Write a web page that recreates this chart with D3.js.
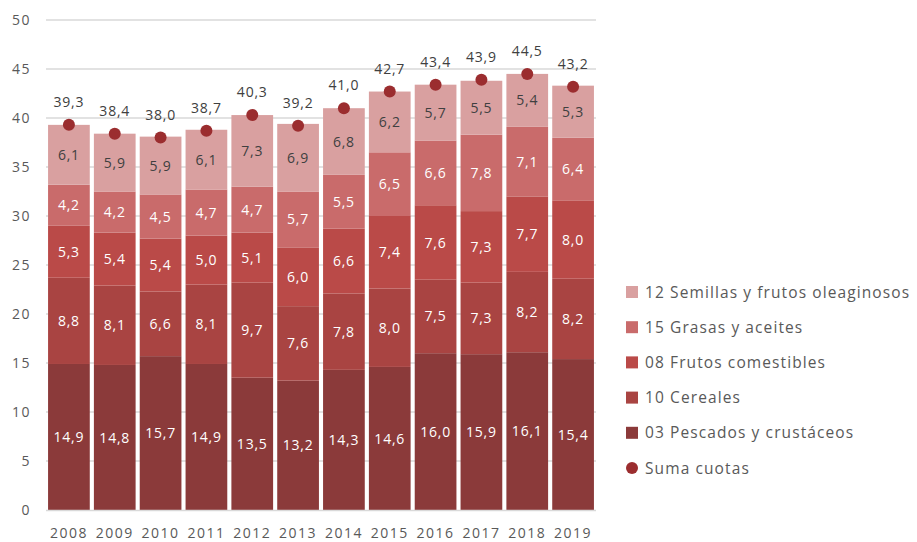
<!DOCTYPE html>
<html><head><meta charset="utf-8">
<script src="https://cdn.jsdelivr.net/npm/d3@7"></script>
<style>body{margin:0;background:#fff}svg{display:block;font-family:"Open Sans",sans-serif}</style>
</head><body><svg id="c" width="917" height="542"></svg>
<script>
const years = ["2008","2009","2010","2011","2012","2013","2014","2015","2016","2017","2018","2019"];
const pescados = [14.9,14.8,15.7,14.9,13.5,13.2,14.3,14.6,16.0,15.9,16.1,15.4];
const cereales = [8.8,8.1,6.6,8.1,9.7,7.6,7.8,8.0,7.5,7.3,8.2,8.2];
const frutos = [5.3,5.4,5.4,5.0,5.1,6.0,6.6,7.4,7.6,7.3,7.7,8.0];
const grasas = [4.2,4.2,4.5,4.7,4.7,5.7,5.5,6.5,6.6,7.8,7.1,6.4];
const semillas = [6.1,5.9,5.9,6.1,7.3,6.9,6.8,6.2,5.7,5.5,5.4,5.3];
const totals = [39.3,38.4,38.0,38.7,40.3,39.2,41.0,42.7,43.4,43.9,44.5,43.2];
const yTicks = [0,5,10,15,20,25,30,35,40,45,50];

const series = [
  {name:"03 Pescados y crustáceos", values:pescados, color:"#8b3a3a", text:"#fff"},
  {name:"10 Cereales", values:cereales, color:"#a94442", text:"#fff"},
  {name:"08 Frutos comestibles", values:frutos, color:"#ba4a48", text:"#fff"},
  {name:"15 Grasas y aceites", values:grasas, color:"#c96b6b", text:"#fff"},
  {name:"12 Semillas y frutos oleaginosos", values:semillas, color:"#d9a0a0", text:"#404040"}
];
const fmt = v => v.toFixed(1).replace(".", ",");

const svg = d3.select("#c");
const x = d3.scaleBand().domain(years).range([46,596]).paddingInner(0.09).paddingOuter(0.045);
const y = d3.scaleLinear().domain([0,50]).range([510,20]);

svg.append("g").selectAll("line").data(yTicks.filter(t=>t>0)).join("line")
  .attr("x1",46).attr("x2",596).attr("y1",d=>y(d)).attr("y2",d=>y(d))
  .attr("stroke","#d9d9d9").attr("stroke-width",1.5);

svg.append("g").selectAll("text").data(yTicks).join("text")
  .attr("x",31).attr("y",d=>y(d)).attr("dy","0.36em").attr("text-anchor","end")
  .attr("font-size",14).attr("letter-spacing",1.5).attr("fill","#595959").text(d=>d);

const rows = years.map((yr,i)=>{const o={year:yr}; series.forEach(s=>o[s.name]=s.values[i]); return o;});
const stack = d3.stack().keys(series.map(s=>s.name))(rows);
stack.forEach((layer,si)=>{
  const s = series[si];
  const g = svg.append("g");
  g.selectAll("rect").data(layer).join("rect")
    .attr("x",d=>x(d.data.year)).attr("width",x.bandwidth())
    .attr("y",d=>y(d[1])).attr("height",d=>y(d[0])-y(d[1]))
    .attr("fill",s.color);
  g.selectAll("text").data(layer).join("text")
    .attr("x",d=>x(d.data.year)+x.bandwidth()/2).attr("y",d=>y((d[0]+d[1])/2))
    .attr("dy","0.36em").attr("text-anchor","middle").attr("font-size",14).attr("letter-spacing",0.8)
    .attr("fill",s.text).text(d=>fmt(d[1]-d[0]));
});

svg.append("line").attr("x1",46).attr("x2",596).attr("y1",510.5).attr("y2",510.5).attr("stroke","#d9d9d9").attr("stroke-width",1.5);

svg.append("g").selectAll("text").data(years).join("text")
  .attr("x",d=>x(d)+x.bandwidth()/2).attr("y",533).attr("dy","0.36em").attr("text-anchor","middle")
  .attr("font-size",14).attr("letter-spacing",1.5).attr("fill","#595959").text(d=>d);

svg.append("g").selectAll("circle").data(totals).join("circle")
  .attr("cx",(d,i)=>x(years[i])+x.bandwidth()/2).attr("cy",d=>y(d)).attr("r",6).attr("fill","#9b2d2f");
svg.append("g").selectAll("text").data(totals).join("text")
  .attr("x",(d,i)=>x(years[i])+x.bandwidth()/2).attr("y",d=>y(d)-23).attr("dy","0.36em")
  .attr("text-anchor","middle").attr("font-size",14).attr("letter-spacing",0.8).attr("fill","#404040").text(d=>fmt(d));

const legend = [...series].reverse().map(s=>({name:s.name,color:s.color,type:"rect"}));
legend.push({name:"Suma cuotas",color:"#9b2d2f",type:"circle"});
const lg = svg.append("g").selectAll("g").data(legend).join("g")
  .attr("transform",(d,i)=>`translate(626,${292+i*35.2})`);
lg.filter(d=>d.type==="rect").append("rect").attr("x",0).attr("y",-6).attr("width",12).attr("height",12).attr("fill",d=>d.color);
lg.filter(d=>d.type==="circle").append("circle").attr("cx",6).attr("cy",0).attr("r",6).attr("fill",d=>d.color);
lg.append("text").attr("x",19).attr("y",0).attr("dy","0.36em").attr("font-size",15.5).attr("letter-spacing",1.1)
  .attr("fill","#595959").text(d=>d.name);
</script></body></html>
